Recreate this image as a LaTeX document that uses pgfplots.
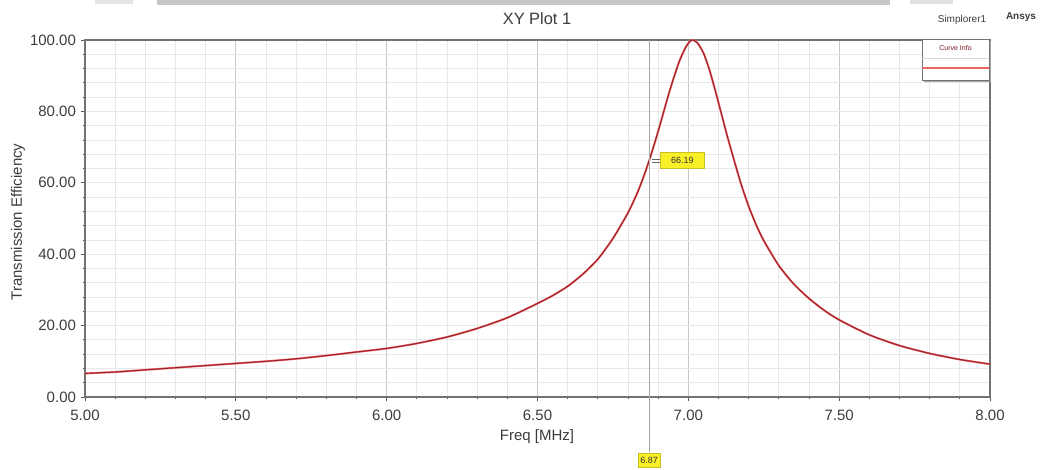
\documentclass[border=0pt]{standalone}
\usepackage{pgfplots}
\pgfplotsset{compat=1.18}
\usepackage{pgfplotstable}
\usepackage{fontspec}
\setmainfont{Liberation Sans}
\definecolor{txt}{RGB}{60,60,60}
\definecolor{curveH}{RGB}{235,100,100}
\definecolor{curveD}{RGB}{150,30,40}
\definecolor{mk}{RGB}{250,240,40}
\pgfplotstableread{
f eff
5.00 6.6
5.10 7.0
5.20 7.6
5.30 8.2
5.40 8.8
5.50 9.4
5.60 10.0
5.70 10.7
5.80 11.6
5.90 12.6
6.00 13.6
6.10 15.0
6.20 16.8
6.30 19.2
6.40 22.2
6.50 26.2
6.55 28.4
6.60 31.0
6.65 34.4
6.70 38.6
6.75 44.4
6.80 51.6
6.83 57.0
6.85 61.3
6.87 66.19
6.89 71.6
6.91 77.4
6.93 83.4
6.95 89.0
6.97 94.0
6.99 97.8
7.005 99.6
7.015 100.0
7.03 99.2
7.05 96.4
7.07 91.6
7.09 85.6
7.11 79.2
7.13 72.8
7.15 66.8
7.175 59.6
7.20 53.4
7.225 48.2
7.25 43.8
7.30 36.8
7.35 31.6
7.40 27.6
7.45 24.3
7.50 21.6
7.60 17.4
7.70 14.4
7.80 12.2
7.90 10.5
8.00 9.2
}\effdata
\begin{document}
\begin{tikzpicture}[x=0.5pt,y=-0.5pt,yshift=235pt]
% bounding box 1060x470 px (0.5pt per px), y downward from top
\path[use as bounding box] (0,0) rectangle (1060,470);
% screenshot band at top
\fill[black!22] (157,0) rectangle (890,5);
\fill[black!10] (95,0) rectangle (133,4);
\fill[black!12] (910,0) rectangle (953,4);
\begin{axis}[
  at={(85pt*0.5,-397pt*0.5)}, anchor=south west,
  scale only axis, width=452.5pt, height=178.5pt,
  xmin=5, xmax=8, ymin=0, ymax=100,
  xtick={5,5.5,...,8}, ytick={0,20,...,100},
  minor x tick num=4, minor y tick num=4,
  xtick pos=left, ytick pos=left,
  tick align=outside,
  major tick length=2.2pt, minor tick length=1.2pt,
  every tick/.style={black!65, line width=0.4pt},
  grid=both,
  minor grid style={black!9, line width=0.4pt},
  major grid style={black!9, line width=0.4pt},
  major x grid style={black!22, line width=0.5pt},
  axis line style={black!55, line width=0.6pt},
  /pgf/number format/.cd, fixed, fixed zerofill, precision=2, assume math mode=true,
  /pgfplots/.cd,
  ticklabel style={font=\fontsize{7.5}{9}\selectfont, text=txt},
  xticklabel style={yshift=-1pt},
  yticklabel style={xshift=1.2pt},
  clip=false,
]
\addplot[curveH, line width=1.0pt, smooth, tension=0.4] table[x=f,y=eff]{\effdata};
\addplot[curveD, line width=0.45pt, smooth, tension=0.4] table[x=f,y=eff]{\effdata};
\coordinate (mtop) at (axis cs:6.87,100);
\coordinate (mpt) at (axis cs:6.87,66.19);
\end{axis}
% marker line and labels
\draw[black!35, line width=0.4pt] (mtop) -- (mtop |- 0,452);
\node[fill=mk, draw=mk!80!black, line width=0.2pt, inner sep=1pt, text=black!80, font=\fontsize{4.5}{5}\selectfont, minimum height=7pt] at (mtop |- 0,460) {6.87};
\node[fill=mk, draw=mk!80!black, line width=0.2pt, inner sep=1pt, text=black!80, font=\fontsize{4.5}{5}\selectfont, anchor=west, minimum width=22pt, minimum height=8pt] (lab) at ([xshift=5.5pt]mpt) {66.19};
\draw[black!60, line width=0.3pt] ([xshift=1.5pt,yshift=0.8pt]mpt) -- ([yshift=0.8pt]lab.west);
\draw[black!60, line width=0.3pt] ([xshift=1.5pt,yshift=-0.8pt]mpt) -- ([yshift=-0.8pt]lab.west);
% title and labels
\node[text=txt, font=\fontsize{8.2}{10}\selectfont] at (537,19) {XY Plot 1};
\node[text=txt, font=\fontsize{7.5}{9}\selectfont] at (537,437) {Freq [MHz]};
\node[text=txt, font=\fontsize{7.5}{9}\selectfont, rotate=90] at (18,222) {Transmission Efficiency};
\node[text=txt, font=\fontsize{5}{6}\selectfont] at (962,20) {Simplorer1};
\node[text=txt, font=\bfseries\fontsize{5}{6}\selectfont] at (1021,17) {Ansys};
% curve info box
\fill[black!35] (924,41) rectangle (991,82);
\fill[white] (922,39) rectangle (989,80);
\draw[black!55, line width=0.4pt] (922,39) rectangle (989,80);
\node[text=curveD!80!black, font=\fontsize{3.5}{4}\selectfont] at (955.5,48) {Curve Info};
\draw[green!40!black!20, line width=0.3pt] (922,58) -- (989,58);
\draw[curveH, line width=0.6pt] (922,68) -- (989,68);
\end{tikzpicture}
\end{document}
